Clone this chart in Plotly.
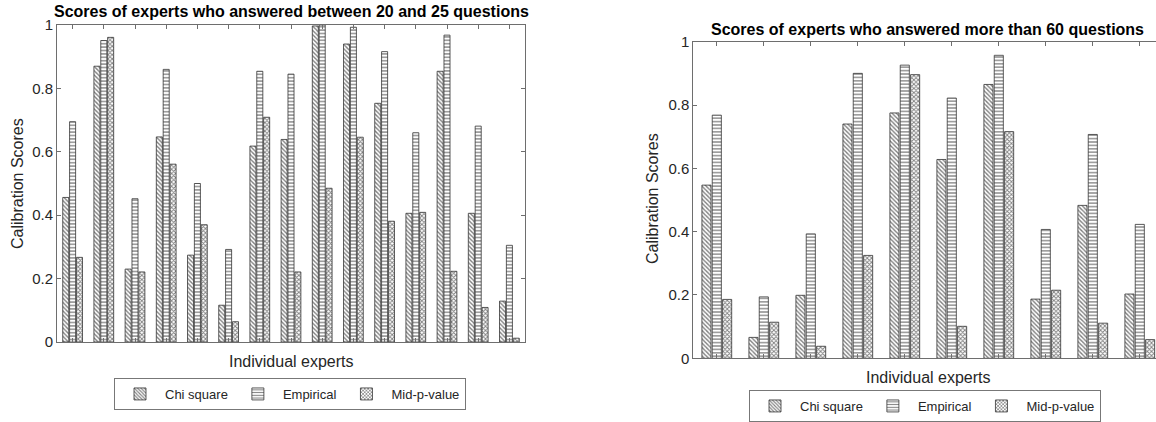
import plotly.graph_objects as go

# ---- data ----
series_names = ["Chi square", "Empirical", "Mid-p-value"]

left_experts = list(range(1, 16))
left_chi = [0.456, 0.870, 0.230, 0.647, 0.274, 0.116, 0.618, 0.639, 0.997, 0.940, 0.753, 0.406, 0.854, 0.406, 0.129]
left_emp = [0.695, 0.951, 0.452, 0.860, 0.500, 0.292, 0.854, 0.845, 1.000, 0.993, 0.916, 0.660, 0.968, 0.681, 0.305]
left_mid = [0.267, 0.961, 0.221, 0.561, 0.370, 0.064, 0.709, 0.221, 0.485, 0.646, 0.381, 0.409, 0.223, 0.109, 0.012]

right_experts = list(range(1, 11))
right_chi = [0.547, 0.066, 0.199, 0.740, 0.775, 0.628, 0.865, 0.187, 0.483, 0.203]
right_emp = [0.768, 0.194, 0.393, 0.900, 0.926, 0.822, 0.957, 0.407, 0.707, 0.423]
right_mid = [0.186, 0.114, 0.038, 0.325, 0.896, 0.101, 0.716, 0.215, 0.111, 0.059]

y_ticks = [0, 0.2, 0.4, 0.6, 0.8, 1]
y_tick_labels = ["0", "0.2", "0.4", "0.6", "0.8", "1"]

left_title = "Scores of experts who answered between 20 and 25 questions"
right_title = "Scores of experts who answered more than 60 questions"

# ---- styling ----
FONT = "Arial, Liberation Sans, sans-serif"
AXC = "#6e6e6e"
TXT = "#262626"
patterns = ["\\", "-", "x"]
psizes = [3, 3.4, 3]
psolid = [0.45, 0.38, 0.5]

fig = go.Figure()

def add_bars(xs, ys_list, xa, ya, legend):
    for name, ys, shp, ps, so in zip(series_names, ys_list, patterns, psizes, psolid):
        fig.add_trace(go.Bar(
            x=xs, y=ys, name=name, xaxis=xa, yaxis=ya, legend=legend,
            marker=dict(color="white",
                        line=dict(color="#333", width=0.8),
                        pattern=dict(shape=shp, fgcolor="black", bgcolor="white",
                                     size=ps, solidity=so, fillmode="overlay")),
            hoverinfo="skip",
        ))

add_bars(left_experts, [left_chi, left_emp, left_mid], "x", "y", "legend")
add_bars(right_experts, [right_chi, right_emp, right_mid], "x2", "y2", "legend2")

W, H = 1156, 422
def px_x(v): return v / W
def px_y(v): return 1 - v / H

axis_common = dict(showgrid=False, zeroline=False, linecolor=AXC, linewidth=1,
                   ticks="inside", ticklen=4, tickcolor=AXC, automargin=False)

fig.update_layout(
    template="none",
    width=W, height=H,
    margin=dict(l=0, r=0, t=0, b=0, autoexpand=False),
    plot_bgcolor="white", paper_bgcolor="white",
    barmode="group", bargap=0.34, bargroupgap=0.12,
    font=dict(family=FONT, size=13, color=TXT),
    xaxis=dict(domain=[px_x(57), px_x(525)], range=[0.5, 15.5], anchor="y",
               tickvals=left_experts, showticklabels=False, showline=True, mirror="ticks",
               **axis_common),
    yaxis=dict(domain=[px_y(342), px_y(25)], range=[0, 1], anchor="x",
               tickvals=y_ticks, ticktext=y_tick_labels, showline=True, mirror="ticks",
               tickfont=dict(size=15, color=TXT), **axis_common),
    xaxis2=dict(domain=[px_x(693.3), 1.0], range=[0.5, 10.345], anchor="y2",
                tickvals=right_experts, showticklabels=False, showline=True, mirror="ticks",
                **axis_common),
    yaxis2=dict(domain=[px_y(358.3), px_y(41.7)], range=[0, 1], anchor="x2",
                tickvals=y_ticks, ticktext=y_tick_labels, showline=True, mirror=False,
                tickfont=dict(size=15, color=TXT), **axis_common),
    legend=dict(orientation="h", x=px_x(290), xanchor="center", y=px_y(394), yanchor="middle",
                bordercolor="#777", borderwidth=1, bgcolor="white",
                font=dict(size=13, color=TXT), itemwidth=40, tracegroupgap=0),
    legend2=dict(orientation="h", x=px_x(925), xanchor="center", y=0, yanchor="bottom",
                 bordercolor="#777", borderwidth=1, bgcolor="white",
                 font=dict(size=13, color=TXT), itemwidth=40, tracegroupgap=0),
    showlegend=True,
)

annos = [
    dict(text=f"<b>{left_title}</b>", x=px_x(291), y=px_y(12), font=dict(size=16, color="black")),
    dict(text=f"<b>{right_title}</b>", x=px_x(927.5), y=px_y(30), font=dict(size=16, color="black")),
    dict(text="Individual experts", x=px_x(291), y=px_y(361), font=dict(size=16, color=TXT)),
    dict(text="Individual experts", x=px_x(928), y=px_y(377), font=dict(size=16, color=TXT)),
    dict(text="Calibration Scores", x=px_x(17), y=px_y(184), textangle=-90, font=dict(size=16, color=TXT)),
    dict(text="Calibration Scores", x=px_x(653), y=px_y(199), textangle=-90, font=dict(size=16, color=TXT)),
]
for a in annos:
    fig.add_annotation(xref="paper", yref="paper", showarrow=False, xanchor="center", yanchor="middle", **a)

fig.write_html("out.html", config={"displayModeBar": False},
               post_script="document.body.style.margin='0px';")
